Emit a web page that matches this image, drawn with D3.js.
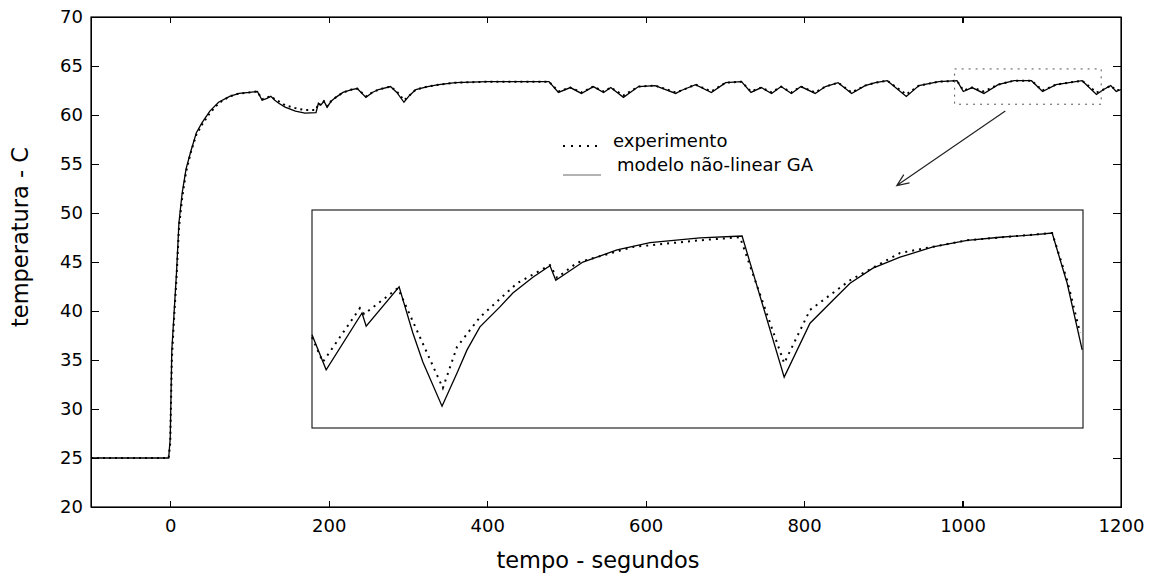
<!DOCTYPE html>
<meta charset="utf-8">
<html lang="pt">
<style>
    body {
        margin: 0;
        background: #fff;
        font-family: "DejaVu Sans", sans-serif;
    }
    .axis path, .axis line {
        fill: none;
        stroke: #000;
        stroke-width: 1.2px;
        shape-rendering: crispEdges;
    }
    .axis text {
        font-family: "DejaVu Sans", sans-serif;
        font-size: 18px;
        fill: #000;
    }
    .modelo {
        fill: none;
        stroke: #000;
        stroke-width: 1.3px;
    }
    .experimento {
        fill: none;
        stroke: #000;
        stroke-width: 2px;
        stroke-dasharray: 2, 4;
    }
</style>
<head>
    <script src="https://d3js.org/d3.v7.min.js"></script>
</head>
<body>
<svg width="1149" height="579"></svg>
<script>

    // serie completa (tempo em segundos, temperatura em C)
    var tempo = [-100, -2, 0, 2, 5, 8, 11, 15, 20, 26, 33, 40, 50, 61, 75, 87, 100, 110, 116, 122,
        127, 132, 137, 145, 158, 170, 184, 187, 190, 194, 198, 203, 209, 218, 229, 236, 247, 255, 263, 278,
        286, 295, 302, 310, 325, 339, 360, 400, 440, 478, 490, 505, 519, 534, 547, 556, 572, 591, 612, 638,
        645, 663, 683, 701, 721, 733, 746, 759, 771, 784, 796, 814, 827, 843, 860, 877, 890, 905, 929, 945,
        970, 993, 1001, 1012, 1027, 1045, 1065, 1087, 1101, 1118, 1151, 1169, 1178, 1187, 1194, 1200];

    var modelo = [25, 25, 27, 36, 40, 44, 49, 52, 54.5, 56.3, 58.2, 59.2, 60.4, 61.3, 61.9, 62.2, 62.3, 62.4, 61.5, 61.7,
        61.9, 61.5, 61.2, 60.8, 60.4, 60.2, 60.25, 61.2, 61.0, 61.4, 60.8, 61.4, 61.8, 62.3, 62.6, 62.7, 61.8, 62.3, 62.6, 62.9,
        62.3, 61.3, 62.0, 62.6, 62.9, 63.1, 63.3, 63.4, 63.4, 63.4, 62.3, 62.8, 62.2, 62.9, 62.3, 62.8, 61.8, 62.9, 63.0, 62.2,
        62.5, 63.1, 62.3, 63.3, 63.4, 62.3, 62.8, 62.2, 62.9, 62.2, 62.9, 62.2, 62.9, 63.3, 62.2, 63.0, 63.3, 63.5, 61.9, 63.0,
        63.4, 63.5, 62.4, 62.8, 62.2, 63.1, 63.5, 63.5, 62.4, 63.1, 63.5, 62.1, 62.6, 63.0, 62.4, 62.6];

    var experimento = [25, 25, 26.5, 35, 39.5, 43.5, 48.5, 51.5, 54.2, 56.2, 58.0, 59.0, 60.2, 61.2, 61.9, 62.2, 62.3, 62.4, 61.6, 61.8,
        61.9, 61.6, 61.4, 61.0, 60.7, 60.5, 60.5, 61.2, 61.0, 61.4, 60.9, 61.4, 61.8, 62.3, 62.6, 62.7, 61.9, 62.3, 62.6, 62.9,
        62.4, 61.5, 62.0, 62.6, 62.9, 63.1, 63.3, 63.4, 63.4, 63.4, 62.4, 62.8, 62.3, 62.9, 62.4, 62.8, 62.0, 62.9, 63.0, 62.3,
        62.5, 63.1, 62.4, 63.3, 63.4, 62.4, 62.8, 62.3, 62.9, 62.3, 62.9, 62.3, 62.9, 63.3, 62.3, 63.0, 63.3, 63.5, 62.1, 63.0,
        63.4, 63.5, 62.5, 62.8, 62.4, 63.1, 63.5, 63.5, 62.5, 63.1, 63.5, 62.3, 62.6, 63.0, 62.5, 62.6];

    // detalhe ampliado (janela 990-1175 s)
    var tempoZoomModelo = [990, 993.4, 1002.0, 1003.0, 1010.9, 1014.2, 1016.6, 1021.2, 1024.8, 1027.2, 1030.3, 1035.1,
        1038.2, 1043.0, 1047.1, 1048.5, 1055.0, 1063.2, 1071.1, 1083.1, 1093.2, 1103.3, 1109.5, 1115.0, 1119.1,
        1124.6, 1131.1, 1139.0, 1147.2, 1155.1, 1163.0, 1167.6, 1171.2, 1174.8];
    var modeloZoom = [62.64, 62.06, 63.00, 62.78, 63.43, 62.67, 62.19, 61.46, 62.01, 62.39, 62.77, 63.10,
        63.33, 63.59, 63.78, 63.54, 63.84, 64.04, 64.16, 64.24, 64.27, 61.94, 62.83, 63.21, 63.49,
        63.74, 63.92, 64.09, 64.20, 64.25, 64.29, 64.32, 63.49, 62.39];

    var tempoZoomExp = [990, 992.6, 1001.5, 1002.5, 1010.6, 1021.4, 1024.8, 1030.3, 1039.2, 1047.1, 1048.8, 1053.6,
        1067.0, 1083.1, 1092.7, 1103.3, 1109.5, 1119.1, 1131.1, 1147.2, 1167.6, 1171.2, 1174.3];
    var experimentoZoom = [62.60, 62.19, 63.08, 62.98, 63.41, 61.76, 62.44, 62.93, 63.49, 63.79, 63.58, 63.83,
        64.09, 64.20, 64.25, 62.17, 63.05, 63.54, 63.99, 64.20, 64.32, 63.54, 62.67];

    var zoomTempo = [990, 1175];
    var zoomTemp = [61.1, 64.7];

    var xTicks = [0, 200, 400, 600, 800, 1000, 1200];
    var yTicks = [20, 25, 30, 35, 40, 45, 50, 55, 60, 65, 70];

    // seta: do retangulo ate o grafico ampliado (tempo, temperatura)
    var seta = [[1054, 60.4], [917, 52.8]];

    var plot = {left: 91, right: 1121, top: 17, bottom: 507};
    var inset = {left: 312, right: 1083, top: 210, bottom: 428};

    var x = d3.scaleLinear().domain([-100, 1200]).range([plot.left, plot.right]);
    var y = d3.scaleLinear().domain([20, 70]).range([plot.bottom, plot.top]);

    var xz = d3.scaleLinear().domain(zoomTempo).range([inset.left, inset.right]);
    var yz = d3.scaleLinear().domain(zoomTemp).range([inset.bottom, inset.top]);

    var svg = d3.select("svg");

    // eixos
    svg.append("g")
        .attr("class", "axis")
        .attr("transform", "translate(0," + plot.bottom + ")")
        .call(d3.axisBottom(x).tickValues(xTicks).tickFormat(d3.format("d"))
            .tickSize(-6).tickSizeOuter(0).tickPadding(12));
    svg.append("g")
        .attr("class", "axis")
        .attr("transform", "translate(0," + plot.top + ")")
        .call(d3.axisTop(x).tickValues(xTicks).tickSize(-6).tickSizeOuter(0).tickFormat(""));
    svg.append("g")
        .attr("class", "axis")
        .attr("transform", "translate(" + plot.left + ",0)")
        .call(d3.axisLeft(y).tickValues(yTicks).tickFormat(d3.format("d"))
            .tickSize(-8).tickSizeOuter(0).tickPadding(8));
    svg.append("g")
        .attr("class", "axis")
        .attr("transform", "translate(" + plot.right + ",0)")
        .call(d3.axisRight(y).tickValues(yTicks).tickSize(-8).tickSizeOuter(0).tickFormat(""));

    svg.append("rect")
        .attr("x", plot.left).attr("y", plot.top)
        .attr("width", plot.right - plot.left).attr("height", plot.bottom - plot.top)
        .style("fill", "none").style("stroke", "#000").style("stroke-width", 1.2);

    // curvas principais
    var line = d3.line()
        .x(function (d) { return x(d[0]); })
        .y(function (d) { return y(d[1]); });

    svg.append("path")
        .datum(d3.zip(tempo, experimento))
        .attr("class", "experimento")
        .attr("d", line);
    svg.append("path")
        .datum(d3.zip(tempo, modelo))
        .attr("class", "modelo")
        .attr("d", line);

    // retangulo tracejado da janela ampliada
    svg.append("rect")
        .attr("x", x(zoomTempo[0])).attr("y", y(zoomTemp[1]))
        .attr("width", x(zoomTempo[1]) - x(zoomTempo[0]))
        .attr("height", y(zoomTemp[0]) - y(zoomTemp[1]))
        .style("fill", "none").style("stroke", "#555")
        .style("stroke-width", 1).style("stroke-dasharray", "2,5");

    // seta
    var p0 = [x(seta[0][0]), y(seta[0][1])],
        p1 = [x(seta[1][0]), y(seta[1][1])];
    var ang = Math.atan2(p0[1] - p1[1], p0[0] - p1[0]);
    svg.append("path")
        .attr("d", "M" + p0 + "L" + p1 +
            "M" + [p1[0] + 13 * Math.cos(ang + 0.4), p1[1] + 13 * Math.sin(ang + 0.4)] + "L" + p1 +
            "L" + [p1[0] + 13 * Math.cos(ang - 0.4), p1[1] + 13 * Math.sin(ang - 0.4)])
        .style("fill", "none").style("stroke", "#222").style("stroke-width", 1.2);

    // grafico ampliado
    svg.append("rect")
        .attr("x", inset.left).attr("y", inset.top)
        .attr("width", inset.right - inset.left).attr("height", inset.bottom - inset.top)
        .style("fill", "#fff").style("stroke", "#111").style("stroke-width", 1.1);

    var lineZ = d3.line()
        .x(function (d) { return xz(d[0]); })
        .y(function (d) { return yz(d[1]); });

    svg.append("path")
        .datum(d3.zip(tempoZoomExp, experimentoZoom))
        .attr("class", "experimento")
        .style("stroke-dasharray", "2,5")
        .attr("d", lineZ);
    svg.append("path")
        .datum(d3.zip(tempoZoomModelo, modeloZoom))
        .attr("class", "modelo")
        .attr("d", lineZ);

    // legenda
    svg.append("line")
        .attr("x1", 563).attr("x2", 603).attr("y1", 146).attr("y2", 146)
        .style("stroke", "#000").style("stroke-width", 2.2).style("stroke-dasharray", "2,6");
    svg.append("text")
        .attr("x", 613).attr("y", 147)
        .style("font-size", "18px")
        .text("experimento");
    svg.append("line")
        .attr("x1", 563).attr("x2", 601).attr("y1", 175).attr("y2", 175)
        .style("stroke", "#666").style("stroke-width", 1);
    svg.append("text")
        .attr("x", 617).attr("y", 171)
        .style("font-size", "18px")
        .text("modelo não-linear GA");

    // titulos dos eixos
    svg.append("text")
        .attr("x", 598).attr("y", 568)
        .style("text-anchor", "middle")
        .style("font-size", "22.5px")
        .text("tempo - segundos");
    svg.append("text")
        .attr("transform", "translate(28,237) rotate(-90)")
        .style("text-anchor", "middle")
        .style("font-size", "22.5px")
        .text("temperatura - C");

</script>
</body>
</html>
